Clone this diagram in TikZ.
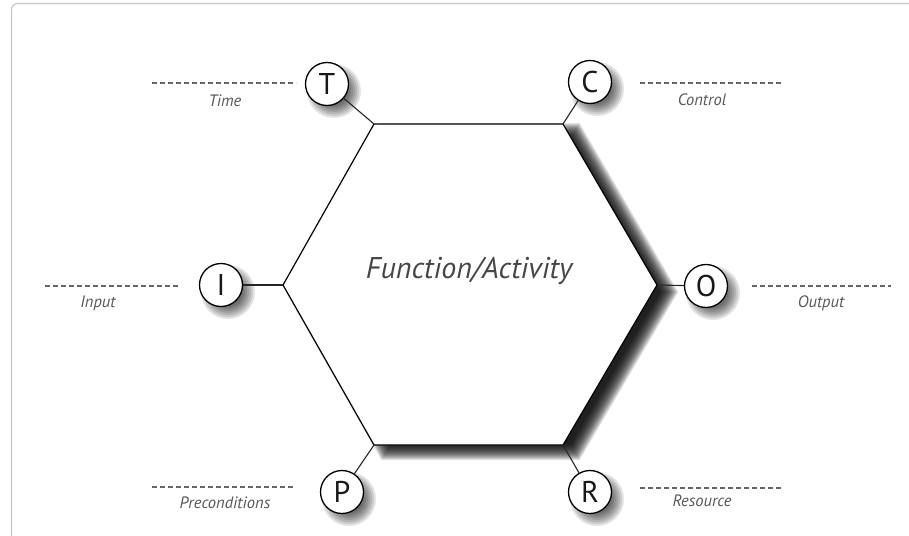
\documentclass[tikz,border=0pt]{standalone}
\usepackage{fontspec}
\setmainfont{PT Sans}
\tikzset{
  hexline/.style={line width=1.2pt, draw=black},
  conn/.style={line width=1.1pt, draw=black!85},
  letterbox/.style={circle, draw=black, line width=1.3pt, fill=white, minimum size=43pt, inner sep=0pt,
     font=\fontsize{30}{30}\selectfont, text=black!90},
  dashline/.style={dash pattern=on 5pt off 3pt, line width=1.1pt, draw=black!60},
  lbl/.style={font=\itshape\fontsize{16.5}{17}\selectfont, text=black!65, inner sep=0pt},
  shadowlayer/.style={fill=black, opacity=0.11},
  hexshadow/.style={fill=black, opacity=0.11},
}
\begin{document}
\begin{tikzpicture}[x=1pt,y=-1pt]
\useasboundingbox (0,0) rectangle (909,535);
\fill[white] (0,0) rectangle (909,535);
% frame
\draw[black!22, line width=1.2pt, rounded corners=6pt] (915,3.5) -- (11.5,3.5) -- (11.5,545);
% hexagon vertices
\coordinate (vl) at (283,285);
\coordinate (vtl) at (374,124);
\coordinate (vtr) at (563,124);
\coordinate (vr) at (657,285);
\coordinate (vbr) at (563,445);
\coordinate (vbl) at (374,445);
% hexagon shadow: stacked offset hexagons, shifted down-right
\foreach \k in {-8,...,8}{
  \pgfmathsetmacro{\a}{1.1547*\k}
  \pgfmathsetmacro{\b}{0.5774*\k}
  \fill[hexshadow]
    ([shift={({12-\a},7)}]vl) -- ([shift={({12-\b},{7-\k})}]vtl) -- ([shift={({12+\b},{7-\k})}]vtr)
    -- ([shift={({12+\a},7)}]vr) -- ([shift={({12+\b},{7+\k})}]vbr) -- ([shift={({12-\b},{7+\k})}]vbl) -- cycle;
}
\draw[hexline, fill=white, line join=miter] (vl) -- (vtl) -- (vtr) -- (vr) -- (vbr) -- (vbl) -- cycle;
\node[font=\itshape\fontsize{30}{30}\selectfont, text=black!72] (fa) at (469,271) {Function/Activity};
% circle centres
\coordinate (Tc) at (327,84);
\coordinate (Cc) at (590,82);
\coordinate (Ic) at (221,285);
\coordinate (Oc) at (706,286);
\coordinate (Pc) at (342,492);
\coordinate (Rc) at (590,492);
% circle shadows
\foreach \c in {Tc,Cc,Ic,Oc,Pc,Rc}{
  \foreach \r in {15,17,...,28}
    \fill[shadowlayer] ([shift={(7,7)}]\c) circle (\r);
}
% circles
\node[letterbox] (T) at (Tc) {T};
\node[letterbox] (C) at (Cc) {C};
\node[letterbox] (I) at (Ic) {I};
\node[letterbox] (O) at (Oc) {O};
\node[letterbox] (P) at (Pc) {P};
\node[letterbox] (R) at (Rc) {R};
% connectors
\draw[conn] (T) -- (vtl);
\draw[conn] (C) -- (vtr);
\draw[conn] (I) -- (vl);
\draw[conn] (O) -- (vr);
\draw[conn] (P) -- (vbl);
\draw[conn] (R) -- (vbr);
% dashed lines and labels
\coordinate (t1) at (152,83); \coordinate (t2) at (296,83);
\draw[dashline] (t1) -- (t2);
\node[lbl] (tl) at (225,101) {Time};
\coordinate (c1) at (640,83); \coordinate (c2) at (783,83);
\draw[dashline] (c1) -- (c2);
\node[lbl] (cl) at (702,100) {Control};
\coordinate (i1) at (45,286); \coordinate (i2) at (178,286);
\draw[dashline] (i1) -- (i2);
\node[lbl] (il) at (98,303) {Input};
\coordinate (o1) at (752,286); \coordinate (o2) at (891,286);
\draw[dashline] (o1) -- (o2);
\node[lbl] (ol) at (821,303) {Output};
\coordinate (p1) at (152,487); \coordinate (p2) at (295,487);
\draw[dashline] (p1) -- (p2);
\node[lbl] (pl) at (225,503) {Preconditions};
\coordinate (r1) at (640,488); \coordinate (r2) at (783,488);
\draw[dashline] (r1) -- (r2);
\node[lbl] (rl) at (702,501) {Resource};
\end{tikzpicture}
\end{document}
